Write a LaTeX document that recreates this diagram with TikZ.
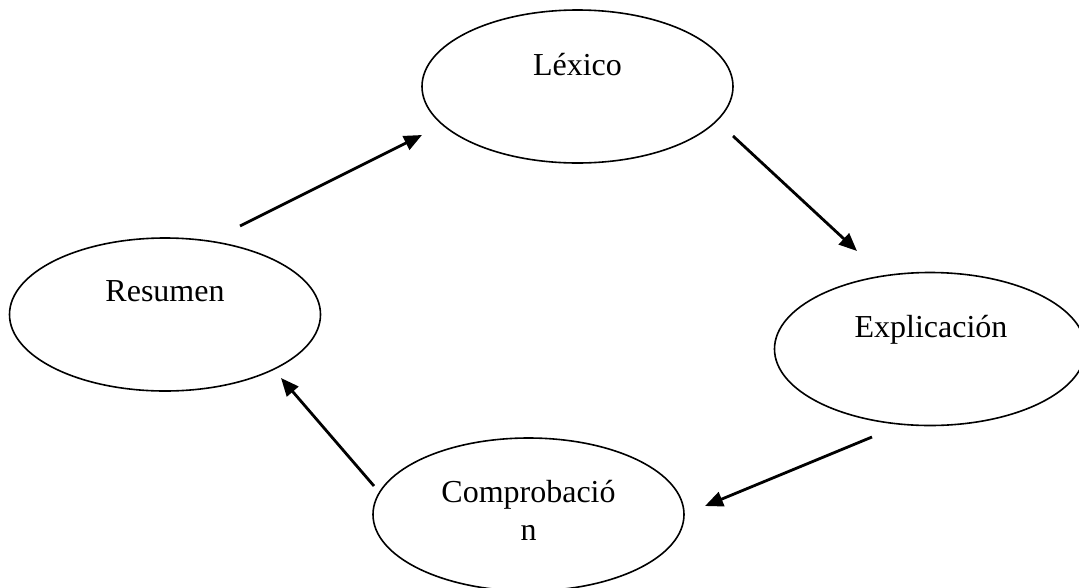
\documentclass[tikz,border=0pt]{standalone}
\usepackage{fontspec}
\setmainfont{Liberation Serif}
\usetikzlibrary{arrows.meta,shapes.geometric,calc}
\begin{document}
\begin{tikzpicture}[x=1pt,y=-1pt,
  bubble/.style={draw=black,line width=1.6pt,ellipse,minimum width=311pt,minimum height=153pt,inner sep=0pt},
  txt/.style={anchor=base,font=\fontsize{32}{38}\selectfont,inner sep=0pt,align=center},
  flow/.style={line width=2.8pt,-{Triangle[length=18pt,width=15pt]}}]
\useasboundingbox (0,0) rectangle (1079,587);
\node[bubble] (lex) at (577.5,86.5) {};
\node[bubble] (res) at (165,314.5) {};
\node[bubble] (exp) at (930,349) {};
\node[bubble] (com) at (528.5,514.5) {};
\node[txt] (tlex) at (577.5,75) {Léxico};
\node[txt] (tres) at (165,301) {Resumen};
\node[txt] (texp) at (931,337) {Explicación};
\node[txt] (tcom) at (528.5,540) {Comprobació\\n};
\coordinate (a1s) at (240,226);
\coordinate (a1e) at (422,135);
\coordinate (a2s) at (733,136);
\coordinate (a2e) at (857,251);
\coordinate (a3s) at (872,437);
\coordinate (a3e) at (705,506);
\coordinate (a4s) at (374,486);
\coordinate (a4e) at (281,378);
\draw[flow] (a1s) -- (a1e);
\draw[flow] (a2s) -- (a2e);
\draw[flow] (a3s) -- (a3e);
\draw[flow] (a4s) -- (a4e);
\end{tikzpicture}
\end{document}
